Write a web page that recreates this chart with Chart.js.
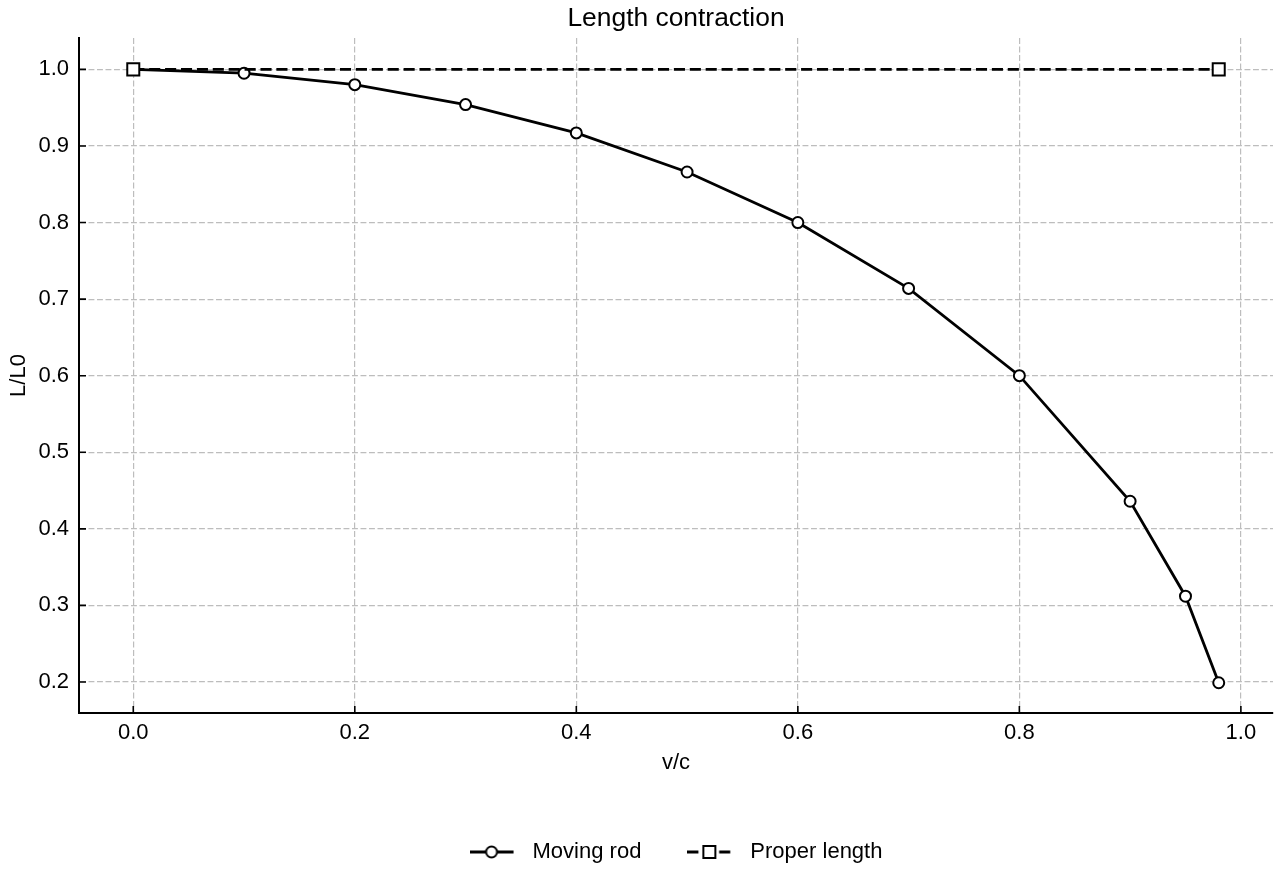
<!DOCTYPE html>
<html>
<head>
<meta charset="utf-8">
<style>
  html, body { margin: 0; padding: 0; background: #fff; }
  #wrap { width: 1280px; height: 880px; }
</style>
<script src="https://cdn.jsdelivr.net/npm/chart.js@4.4.1/dist/chart.umd.min.js"></script>
</head>
<body>
<div id="wrap"><canvas id="c" width="1280" height="880"></canvas></div>
<script>
// ---- data ----
const velocities = [0.0, 0.1, 0.2, 0.3, 0.4, 0.5, 0.6, 0.7, 0.8, 0.9, 0.95, 0.98];
const movingRod = [1.0, 0.995, 0.980, 0.954, 0.917, 0.866, 0.800, 0.714, 0.600, 0.436, 0.312, 0.199];
const properVelocities = [0.0, 0.98];
const properLength = [1.0, 1.0];
const xTicks = [0.0, 0.2, 0.4, 0.6, 0.8, 1.0];
const xTickLabels = ['0.0', '0.2', '0.4', '0.6', '0.8', '1.0'];
const yTicks = [0.2, 0.3, 0.4, 0.5, 0.6, 0.7, 0.8, 0.9, 1.0];
const yTickLabels = ['0.2', '0.3', '0.4', '0.5', '0.6', '0.7', '0.8', '0.9', '1.0'];
const seriesNames = ['Moving rod', 'Proper length'];
const chartTitle = 'Length contraction';
const xTitle = 'v/c';
const yTitle = 'L/L0';

const FONT = "'Liberation Sans', Arial, Helvetica, sans-serif";
Chart.defaults.font.family = FONT;
Chart.defaults.color = '#000';

const LINE_W = 2.8;
const DASH = [11.1, 4.8];
const GRID_DASH = [5.9, 2.6];

function legendImage(kind) {
  const c = document.createElement('canvas');
  c.width = 52; c.height = 22;
  const g = c.getContext('2d');
  g.strokeStyle = '#000';
  g.lineWidth = LINE_W;
  if (kind === 'rect') g.setLineDash(DASH);
  g.beginPath(); g.moveTo(0, 11); g.lineTo(44, 11); g.stroke();
  g.setLineDash([]);
  g.fillStyle = '#fff';
  g.lineWidth = 2;
  g.beginPath();
  if (kind === 'circle') g.arc(22, 11, 5.5, 0, Math.PI * 2);
  else g.rect(16, 5, 12, 12);
  g.fill(); g.stroke();
  return c;
}

// inward tick marks, placed through the library's scales
const tickMarks = {
  id: 'tickMarks',
  afterDatasetsDraw(chart) {
    const ctx = chart.ctx;
    const xs = chart.scales.x, ys = chart.scales.y;
    ctx.save();
    ctx.strokeStyle = '#000';
    ctx.lineWidth = 1.6;
    ctx.beginPath();
    xs.ticks.forEach(t => {
      const p = xs.getPixelForValue(t.value);
      ctx.moveTo(p, xs.top); ctx.lineTo(p, xs.top - 7);
    });
    ys.ticks.forEach(t => {
      const p = ys.getPixelForValue(t.value);
      ctx.moveTo(ys.right, p); ctx.lineTo(ys.right + 7, p);
    });
    ctx.stroke();
    ctx.restore();
  }
};

const gridOpts = { color: '#bdbdbd', lineWidth: 1.2, drawTicks: false };

new Chart(document.getElementById('c'), {
  type: 'line',
  data: {
    datasets: [
      { label: seriesNames[0], data: velocities.map((v, i) => ({ x: v, y: movingRod[i] })),
        borderColor: '#000', borderWidth: LINE_W, pointStyle: 'circle', pointRadius: 5.5, pointBorderWidth: 2,
        pointBackgroundColor: '#fff', pointBorderColor: '#000', tension: 0, order: 1 },
      { label: seriesNames[1], data: properVelocities.map((v, i) => ({ x: v, y: properLength[i] })),
        borderColor: '#000', borderWidth: LINE_W, borderDash: DASH, pointStyle: 'rect', pointRadius: 8.5, pointBorderWidth: 2,
        pointBackgroundColor: '#fff', pointBorderColor: '#000', tension: 0, order: 0 }
    ]
  },
  options: {
    responsive: false, animation: false, devicePixelRatio: 1,
    layout: { autoPadding: false, padding: { left: 0, right: 7, top: 0, bottom: 7 } },
    plugins: {
      tooltip: { enabled: false },
      title: { display: true, text: chartTitle, fullSize: false, color: '#000',
        font: { size: 26.4, weight: 'normal', family: FONT }, padding: { top: 3, bottom: 3.3 } },
      legend: { display: true, position: 'bottom', fullSize: false,
        labels: { usePointStyle: true, pointStyleWidth: 52, padding: 46, color: '#000', font: { size: 22, family: FONT },
          generateLabels() {
            return seriesNames.map((name, i) => ({ text: name, pointStyle: legendImage(i === 0 ? 'circle' : 'rect'),
              fillStyle: 'transparent', strokeStyle: 'transparent', lineWidth: 0, hidden: false, datasetIndex: i, fontColor: '#000' }));
          } } }
    },
    scales: {
      x: { type: 'linear', min: -0.049, max: 1.029,
        afterBuildTicks(scale) { scale.ticks = xTicks.map(v => ({ value: v })); },
        afterFit(scale) { scale.height = 82; scale.paddingLeft = 0; scale.paddingRight = 0; },
        ticks: { padding: 7, font: { size: 22 }, color: '#000', maxRotation: 0, autoSkip: false, callback: (v, i) => xTickLabels[i] },
        grid: Object.assign({}, gridOpts),
        border: { display: true, color: '#000', width: 2, dash: GRID_DASH },
        title: { display: true, text: xTitle, color: '#000', font: { size: 22 }, padding: { top: 0, bottom: 18.5 } } },
      y: { type: 'linear', min: 0.1595, max: 1.041,
        afterBuildTicks(scale) { scale.ticks = yTicks.map(v => ({ value: v })); },
        afterFit(scale) { scale.width = 79; },
        ticks: { padding: 10, font: { size: 22 }, color: '#000', autoSkip: false, callback: (v, i) => yTickLabels[i] },
        grid: Object.assign({}, gridOpts),
        border: { display: true, color: '#000', width: 2, dash: GRID_DASH },
        title: { display: true, text: yTitle, color: '#000', font: { size: 22 }, padding: { top: 5.3, bottom: 0 } } }
    }
  },
  plugins: [tickMarks]
});
</script>
</body>
</html>
